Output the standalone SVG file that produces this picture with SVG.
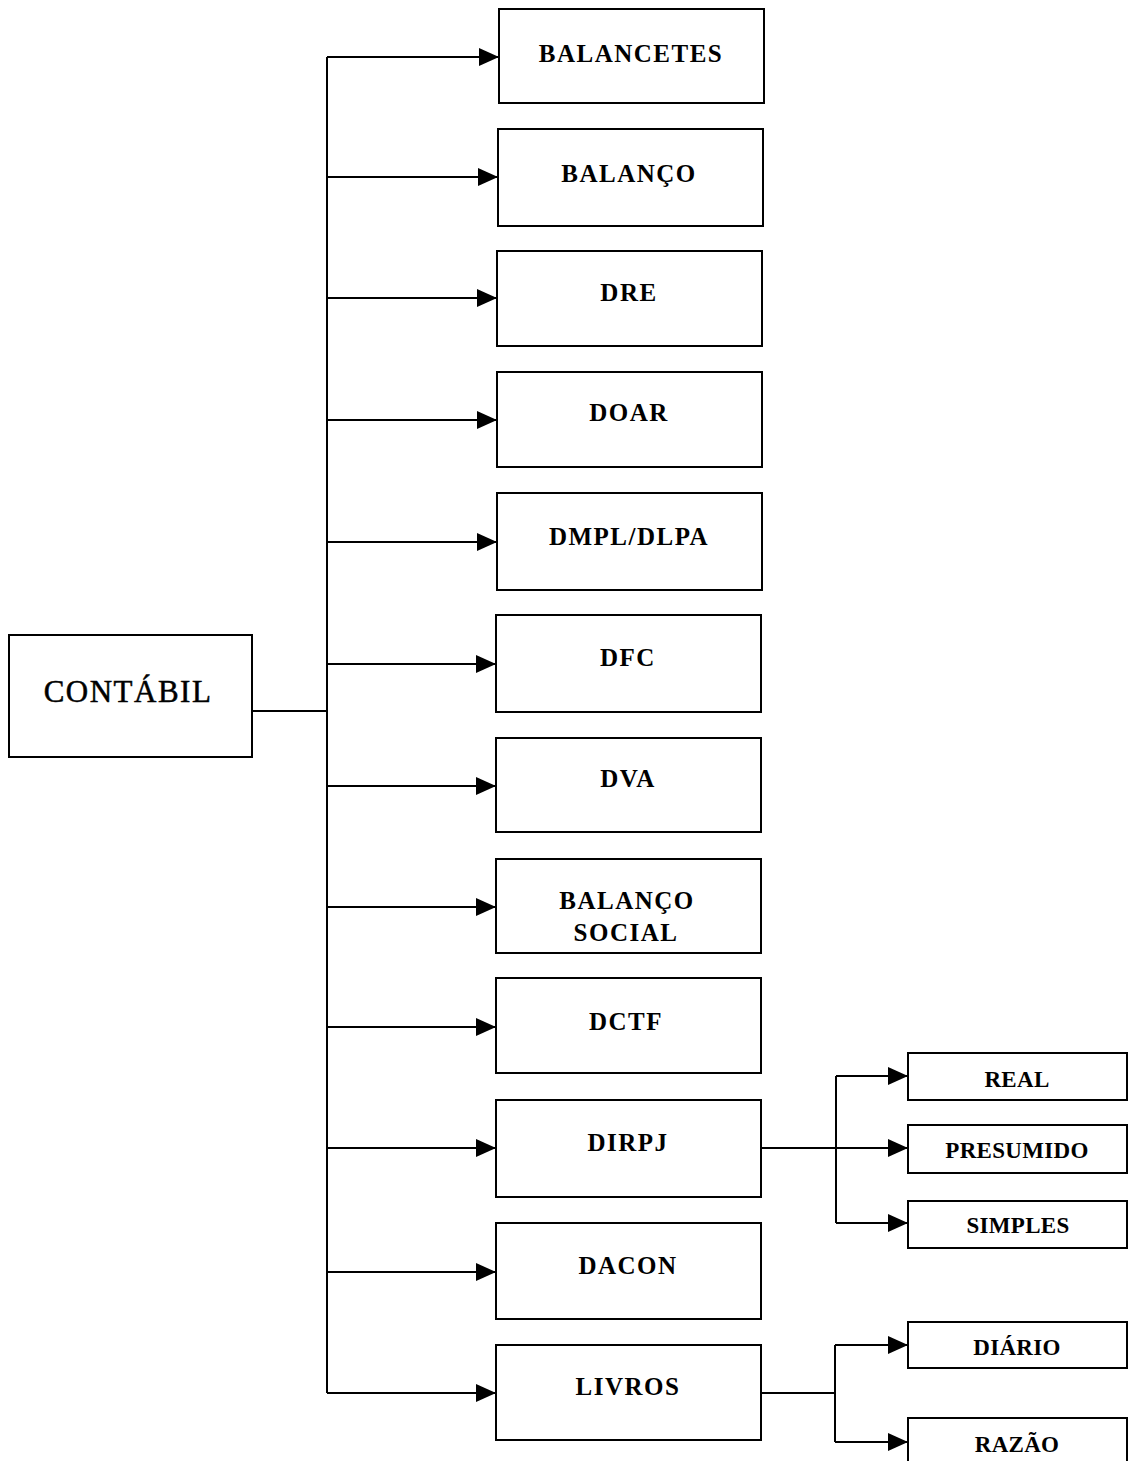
<svg xmlns="http://www.w3.org/2000/svg" width="1128" height="1461" viewBox="0 0 1128 1461">
<style>
.box{fill:#fff;stroke:#000;stroke-width:2}
.lbl{font-family:"Liberation Serif","Times New Roman",serif;font-weight:bold;font-size:25px;letter-spacing:1.5px;text-anchor:middle;fill:#000}
.sub{font-family:"Liberation Serif","Times New Roman",serif;font-weight:bold;font-size:23px;letter-spacing:0.3px;text-anchor:middle;fill:#000}
.root{font-family:"Liberation Serif","Times New Roman",serif;font-size:31px;letter-spacing:1.5px;text-anchor:middle;fill:#000;stroke:#000;stroke-width:0.5}
.ln{fill:none;stroke:#000;stroke-width:2}
.ar{fill:none;stroke:#000;stroke-width:2;marker-end:url(#ah)}
</style>
<defs>
<marker id="ah" viewBox="0 0 20 18" refX="20" refY="9" markerWidth="20" markerHeight="18" markerUnits="userSpaceOnUse" orient="auto">
<path d="M0,0 L20,9 L0,18 z" fill="#000"/>
</marker>
</defs>
<rect width="1128" height="1461" fill="#fff"/>
<g id="connectors">
<path class="ln" d="M252,711 H327"/>
<path class="ln" d="M327,57 V1393"/>
<path class="ar" d="M327,57 H499"/>
<path class="ar" d="M327,177 H498"/>
<path class="ar" d="M327,298 H497"/>
<path class="ar" d="M327,420 H497"/>
<path class="ar" d="M327,542 H497"/>
<path class="ar" d="M327,664 H496"/>
<path class="ar" d="M327,786 H496"/>
<path class="ar" d="M327,907 H496"/>
<path class="ar" d="M327,1027 H496"/>
<path class="ar" d="M327,1148 H496"/>
<path class="ar" d="M327,1272 H496"/>
<path class="ar" d="M327,1393 H496"/>
<path class="ln" d="M762,1148 H836"/>
<path class="ln" d="M836,1076 V1223"/>
<path class="ar" d="M836,1076 H908"/>
<path class="ar" d="M836,1148 H908"/>
<path class="ar" d="M836,1223 H908"/>
<path class="ln" d="M761,1393 H835"/>
<path class="ln" d="M835,1345 V1442"/>
<path class="ar" d="M835,1345 H908"/>
<path class="ar" d="M835,1442 H908"/>
</g>
<g id="contabil"><rect class="box" x="9" y="635" width="243" height="122"/><text class="root" x="128" y="702">CONTÁBIL</text></g>
<g id="balancetes"><rect class="box" x="499" y="9" width="265" height="94"/><text class="lbl" x="631" y="62">BALANCETES</text></g>
<g id="balanco"><rect class="box" x="498" y="129" width="265" height="97"/><text class="lbl" x="629" y="182">BALANÇO</text></g>
<g id="dre"><rect class="box" x="497" y="251" width="265" height="95"/><text class="lbl" x="629" y="301">DRE</text></g>
<g id="doar"><rect class="box" x="497" y="372" width="265" height="95"/><text class="lbl" x="629" y="421">DOAR</text></g>
<g id="dmpl"><rect class="box" x="497" y="493" width="265" height="97"/><text class="lbl" x="629" y="545">DMPL/DLPA</text></g>
<g id="dfc"><rect class="box" x="496" y="615" width="265" height="97"/><text class="lbl" x="628" y="666">DFC</text></g>
<g id="dva"><rect class="box" x="496" y="738" width="265" height="94"/><text class="lbl" x="628" y="787">DVA</text></g>
<g id="balancosocial"><rect class="box" x="496" y="859" width="265" height="94"/><text class="lbl" x="627" y="909">BALANÇO</text><text class="lbl" x="626" y="941">SOCIAL</text></g>
<g id="dctf"><rect class="box" x="496" y="978" width="265" height="95"/><text class="lbl" x="626" y="1030">DCTF</text></g>
<g id="dirpj"><rect class="box" x="496" y="1100" width="265" height="97"/><text class="lbl" x="628" y="1151">DIRPJ</text></g>
<g id="dacon"><rect class="box" x="496" y="1223" width="265" height="96"/><text class="lbl" x="628" y="1274">DACON</text></g>
<g id="livros"><rect class="box" x="496" y="1345" width="265" height="95"/><text class="lbl" x="628" y="1395">LIVROS</text></g>
<g id="real"><rect class="box" x="908" y="1053" width="219" height="47"/><text class="sub" x="1017" y="1087">REAL</text></g>
<g id="presumido"><rect class="box" x="908" y="1125" width="219" height="48"/><text class="sub" x="1017" y="1158">PRESUMIDO</text></g>
<g id="simples"><rect class="box" x="908" y="1201" width="219" height="47"/><text class="sub" x="1018" y="1233">SIMPLES</text></g>
<g id="diario"><rect class="box" x="908" y="1322" width="219" height="46"/><text class="sub" x="1017" y="1355">DIÁRIO</text></g>
<g id="razao"><rect class="box" x="908" y="1418" width="219" height="50"/><text class="sub" x="1017" y="1452">RAZÃO</text></g>
</svg>
